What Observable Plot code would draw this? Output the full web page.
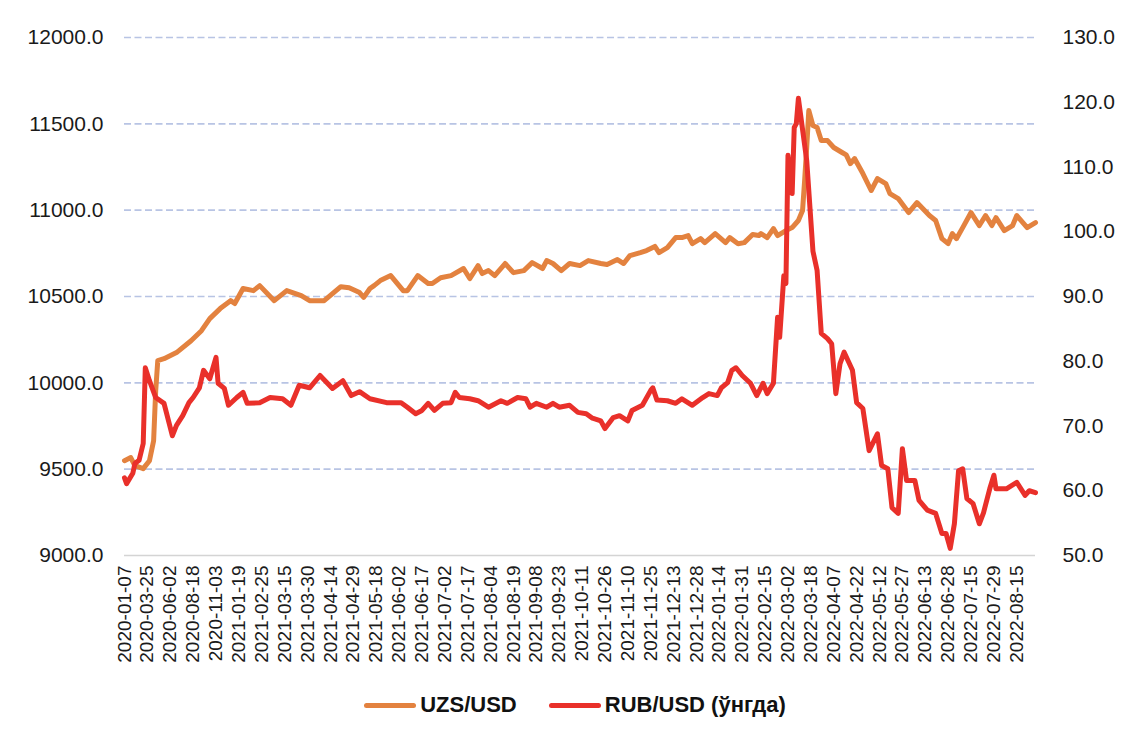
<!DOCTYPE html>
<html>
<head>
<meta charset="utf-8">
<script src="https://cdn.jsdelivr.net/npm/d3@7"></script>
<script src="https://cdn.jsdelivr.net/npm/@observablehq/plot@0.6"></script>
<style>
  body { margin: 0; background: #fff; font-family: "Liberation Sans", Arial, sans-serif; }
  #legend { display: flex; justify-content: center; align-items: center; height: 50px; padding-left: 18px;
            font: bold 22px "Liberation Sans", Arial, sans-serif; color: #111; }
  .sw { display: inline-block; width: 52px; height: 5px; border-radius: 3px; margin-right: 4px; }
</style>
</head>
<body>
<div id="chart"></div>
<div id="legend"></div>
<script>
// ---- data ----
const seriesNames = ["UZS/USD", "RUB/USD (ўнгда)"];
const seriesColors = ["#e3823f", "#e9302a"];

const dateLabels = ["2020-01-07","2020-03-25","2020-06-02","2020-08-18","2020-11-03","2021-01-19","2021-02-25","2021-03-15","2021-03-30","2021-04-14","2021-04-29","2021-05-18","2021-06-02","2021-06-17","2021-07-02","2021-07-17","2021-08-04","2021-08-19","2021-09-08","2021-09-23","2021-10-11","2021-10-26","2021-11-10","2021-11-25","2021-12-13","2021-12-28","2022-01-14","2022-01-31","2022-02-15","2022-03-02","2022-03-18","2022-04-07","2022-04-22","2022-05-12","2022-05-27","2022-06-13","2022-06-28","2022-07-15","2022-07-29","2022-08-15"];
const labelStep = 11;      // observations between labelled dates
const lastIndex = 438;     // last observation index

const leftTicks = [9000, 9500, 10000, 10500, 11000, 11500, 12000];
const rightTicks = [50, 60, 70, 80, 90, 100, 110, 120, 130];

// UZS/USD (left axis): observation index, value
const uzsIdx = [0,3,5,9,12,14,15,16,19,25,32,37,41,46,51,53,57,62,65,72,78,85,89,96,104,108,113,115,118,120,123,128,134,136,141,146,148,152,157,163,166,170,172,175,178,183,187,192,196,201,203,206,210,214,219,223,229,232,237,240,243,248,251,255,257,261,265,268,271,273,277,279,284,289,291,295,298,302,305,306,309,312,314,318,321,324,326,327,328,329,331,333,335,338,341,345,347,349,351,355,359,362,366,368,372,377,381,387,390,393,396,398,400,403,407,411,414,417,419,423,427,429,434,438];
const uzsVal = [9549,9567,9520,9503,9549,9665,9955,10129,10140,10175,10244,10302,10372,10430,10476,10459,10546,10534,10563,10476,10534,10505,10476,10476,10557,10551,10523,10495,10546,10563,10592,10621,10534,10534,10621,10575,10575,10609,10621,10662,10604,10679,10633,10650,10621,10691,10638,10650,10696,10662,10708,10691,10650,10691,10679,10708,10691,10685,10714,10691,10737,10754,10766,10790,10754,10783,10841,10841,10853,10806,10835,10812,10864,10812,10841,10806,10812,10859,10853,10864,10841,10893,10853,10882,10899,10940,10998,11171,11363,11577,11490,11479,11403,11403,11363,11334,11320,11270,11299,11212,11114,11183,11154,11096,11067,10986,11044,10969,10940,10835,10806,10864,10835,10899,10986,10911,10969,10911,10957,10882,10911,10969,10899,10928];

// RUB/USD (right axis): observation index, value
const rubIdx = [0,1,4,5,7,9,10,12,15,19,23,25,28,31,33,36,38,41,44,45,48,50,54,57,59,65,70,76,80,84,89,94,100,105,109,113,118,126,133,136,140,143,146,149,153,157,159,161,166,170,175,181,184,189,193,195,198,203,206,209,214,218,222,225,229,231,235,238,242,244,249,253,254,256,261,265,268,273,278,281,285,287,290,292,294,297,301,304,307,309,312,314,315,317,318,319,321,322,323,324,328,331,333,335,338,340,342,344,346,350,352,355,358,362,364,367,369,372,374,376,380,382,386,390,393,395,397,399,401,403,405,408,411,413,416,418,419,424,429,433,435,438];
const rubVal = [62.0,61.1,62.7,64.2,64.7,67.3,79.0,77.0,74.4,73.5,68.5,70.1,71.6,73.6,74.4,75.9,78.6,77.3,80.6,76.6,75.8,73.2,74.4,75.2,73.5,73.6,74.4,74.2,73.2,76.3,75.9,77.8,75.8,77.0,74.7,75.3,74.2,73.6,73.6,72.9,71.9,72.4,73.5,72.4,73.5,73.6,75.2,74.4,74.2,73.9,72.9,73.9,73.5,74.4,74.2,72.9,73.5,72.9,73.5,72.9,73.2,72.1,71.9,71.2,70.8,69.6,71.3,71.6,70.8,72.4,73.2,75.5,75.9,74.0,73.9,73.5,74.2,73.2,74.4,75.0,74.7,75.9,76.7,78.6,79.0,77.8,76.6,74.7,76.6,75.0,76.6,86.8,83.7,93.2,92.0,111.8,105.9,116.1,116.7,120.6,111.0,97.0,94.0,84.3,83.5,82.7,75.0,79.6,81.4,78.6,73.6,72.7,66.2,68.8,63.9,63.4,57.4,56.5,66.5,61.6,61.6,58.5,57.0,56.5,53.4,53.4,51.1,54.9,63.1,63.4,58.8,58.0,54.9,56.6,60.3,62.4,60.3,60.3,61.3,59.3,60.0,59.7];

// ---- build ----
const uzs = uzsIdx.map((i, k) => ({i, v: uzsVal[k]}));
const rub = rubIdx.map((i, k) => ({i, v: rubVal[k]}));

const L0 = leftTicks[0], L1 = leftTicks[leftTicks.length - 1];
const R0 = rightTicks[0], R1 = rightTicks[rightTicks.length - 1];
const k = (L1 - L0) / (R1 - R0);
const rubToLeft = r => L0 + (r - R0) * k;
const leftToRub = l => R0 + (l - L0) / k;

const tickIdx = dateLabels.map((d, j) => j * labelStep);

const chart = Plot.plot({
  width: 1132,
  height: 680,
  marginTop: 37,
  marginBottom: 125,
  marginLeft: 124,
  marginRight: 97,
  style: {fontFamily: '"Liberation Sans", Arial, sans-serif', fontSize: "21px", color: "#1a1a1a", background: "#fff"},
  x: {domain: [0, lastIndex], axis: null},
  y: {domain: [L0, L1], axis: null},
  marks: [
    Plot.ruleY(leftTicks.slice(1), {stroke: "#b8c4e4", strokeWidth: 1.7, strokeDasharray: "7,3.5"}),
    Plot.ruleY([L0], {stroke: "#d4d4d4", strokeWidth: 1.5}),
    Plot.axisY({ticks: leftTicks, tickSize: 0, tickPadding: 21, tickFormat: d => d.toFixed(1), fontSize: 21, label: null}),
    Plot.axisY({anchor: "right", ticks: rightTicks.map(rubToLeft), tickSize: 0, tickPadding: 27,
                tickFormat: d => leftToRub(d).toFixed(1), fontSize: 21, label: null}),
    Plot.axisX({ticks: tickIdx, tickFormat: d => dateLabels[Math.round(d / labelStep)], tickRotate: -90,
                tickSize: 0, tickPadding: 10, fontSize: 19, label: null}),
    Plot.line(uzs, {x: "i", y: "v", stroke: seriesColors[0], strokeWidth: 5, strokeLinejoin: "round", strokeLinecap: "round"}),
    Plot.line(rub, {x: "i", y: d => rubToLeft(d.v), stroke: seriesColors[1], strokeWidth: 5, strokeLinejoin: "round", strokeLinecap: "round"})
  ]
});
document.getElementById("chart").appendChild(chart);

const legend = document.getElementById("legend");
seriesNames.forEach((name, j) => {
  const item = document.createElement("span");
  item.style.display = "inline-flex";
  item.style.alignItems = "center";
  if (j > 0) item.style.marginLeft = "32px";
  const sw = document.createElement("span");
  sw.className = "sw";
  sw.style.background = seriesColors[j];
  item.appendChild(sw);
  item.appendChild(document.createTextNode(name));
  legend.appendChild(item);
});
</script>
</body>
</html>
